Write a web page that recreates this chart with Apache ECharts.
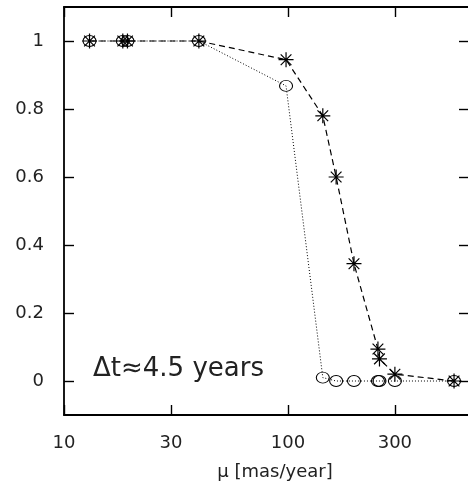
<!DOCTYPE html>
<html>
<head>
<meta charset="utf-8">
<script src="https://cdn.jsdelivr.net/npm/echarts@6/dist/echarts.min.js"></script>
<style>html,body{margin:0;padding:0;background:#fff;}#c{width:468px;height:491px;}</style>
</head>
<body>
<div id="c"></div>
<script>
// Data
var mu = [13, 18.3, 19.2, 40, 98, 143, 164, 197, 252, 256, 300, 551];
var fracStar = [1, 1, 1, 1, 0.945, 0.78, 0.60, 0.345, 0.094, 0.065, 0.02, 0];
var fracCircle = [1, 1, 1, 1, 0.868, 0.01, 0, 0, 0, 0, 0, 0];
var xTicks = [10, 30, 100, 300];
var yTicks = [0, 0.2, 0.4, 0.6, 0.8, 1];
var xTitle = 'μ [mas/year]';
var note = 'Δt≈4.5 years';

function pairs(xs, ys) { return xs.map(function (x, i) { return [x, ys[i]]; }); }

var FONT = 'DejaVu Sans';
var starPath = 'path://M0,-7L0,7M-7,0L7,0M-5,-5L5,5M-5,5L5,-5';

var chart = echarts.init(document.getElementById('c'), null, {renderer: 'canvas'});
var axisLine = {show: true, onZero: false, lineStyle: {color: '#000', width: 1.8}};
var tickStyle = {lineStyle: {color: '#000', width: 1.4}};
chart.setOption({
  animation: false,
  backgroundColor: '#fff',
  grid: {left: 64, right: 0, top: 7, bottom: 76, containLabel: false},
  xAxis: [{
    type: 'log', logBase: 10, min: 10, max: 636,
    position: 'bottom',
    axisLine: axisLine,
    axisTick: Object.assign({show: true, inside: true, length: 10, customValues: xTicks}, tickStyle),
    minorTick: {show: false},
    axisLabel: {show: true, customValues: xTicks, margin: 19, fontFamily: FONT, fontSize: 18, color: '#222'},
    splitLine: {show: false},
    name: xTitle, nameLocation: 'middle', nameGap: 48,
    nameTextStyle: {fontFamily: FONT, fontSize: 18, color: '#222', padding: [0, 0, 0, 18]}
  }, {
    type: 'log', logBase: 10, min: 10, max: 636,
    position: 'top',
    axisLine: axisLine,
    axisTick: Object.assign({show: true, inside: true, length: 10, customValues: xTicks}, tickStyle),
    axisLabel: {show: false},
    splitLine: {show: false}
  }],
  yAxis: [{
    type: 'value', min: -0.1, max: 1.1,
    position: 'left',
    axisLine: axisLine,
    axisTick: Object.assign({show: true, inside: true, length: 10, customValues: yTicks}, tickStyle),
    axisLabel: {show: true, customValues: yTicks, margin: 20, fontFamily: FONT, fontSize: 18, color: '#222'},
    splitLine: {show: false}
  }, {
    type: 'value', min: -0.1, max: 1.1,
    position: 'right',
    axisLine: {show: false, onZero: false},
    axisTick: Object.assign({show: true, inside: true, length: 9, customValues: yTicks}, tickStyle),
    axisLabel: {show: false},
    splitLine: {show: false}
  }],
  series: [{
    type: 'line',
    data: pairs(mu, fracCircle),
    symbol: 'circle', symbolSize: [13, 11],
    itemStyle: {color: 'rgba(0,0,0,0)', borderColor: '#000', borderWidth: 1},
    lineStyle: {color: '#000', width: 1, type: [1, 2]},
    z: 2
  }, {
    type: 'line',
    data: pairs(mu, fracStar),
    symbol: starPath, symbolSize: 15,
    itemStyle: {color: 'rgba(0,0,0,0)', borderColor: '#000', borderWidth: 1.2},
    lineStyle: {color: '#000', width: 1.2, type: [6, 4]},
    z: 3
  }],
  graphic: [{
    type: 'text', left: 93, top: 356,
    style: {text: note, fontFamily: FONT, fontSize: 26, fill: '#222'}
  }]
});
</script>
</body>
</html>
